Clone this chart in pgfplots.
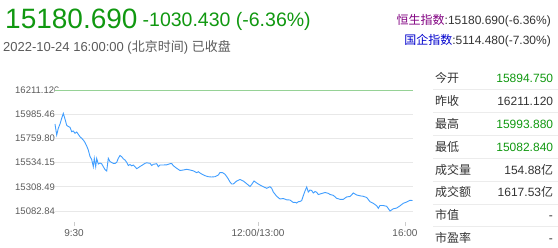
\documentclass[border=0pt]{standalone}
\usepackage{fontspec}
\setmainfont{Liberation Sans}
\newfontfamily\cjk{Noto Sans CJK SC}
\usepackage{pgfplots}
\pgfplotsset{compat=1.18}
\usepackage{pgfplotstable}

\definecolor{upgreen}{RGB}{16,152,16}
\definecolor{lineblue}{RGB}{64,158,255}
\definecolor{refgreen}{RGB}{150,210,150}
\definecolor{gridgray}{RGB}{232,232,232}
\definecolor{txtgray}{RGB}{90,90,90}
\definecolor{darktxt}{RGB}{51,51,51}
\definecolor{hsipurple}{RGB}{128,0,128}
\definecolor{hsceblue}{RGB}{0,0,204}
\definecolor{sepgray}{RGB}{236,236,236}

\pgfplotstableread{
t v
55 15894.75
56.7 15792.2
58.3 15854.7
60 15894.9
61.7 15948.1
63.3 15993.88
65 15941.6
66.7 15882.7
68.3 15871.5
70 15864.1
71.7 15823.0
73.3 15829.6
75 15808.1
76.7 15820.2
78.3 15798.7
80 15776.3
81.7 15761.4
83.3 15745.5
85 15722.2
86.7 15689.5
88.3 15652.2
90 15591.5
91.7 15563.5
93.3 15496.3
94.3 15574.7
95.7 15496.3
96.7 15572.8
98.3 15521.5
100 15530.8
101.7 15523.4
103.3 15496.3
105 15470.2
106.7 15456.2
108.3 15574.7
110 15544.8
111.7 15535.5
113.3 15528.0
115 15526.2
116.7 15537.4
118.3 15574.7
120 15600.8
121.7 15589.6
123.3 15570.0
125 15558.8
126.7 15537.4
128.3 15507.5
130 15516.8
131.7 15504.7
133.3 15512.2
135 15496.3
136.7 15477.6
138.3 15487.0
140 15498.2
141.7 15507.5
143.3 15516.8
145 15528.0
146.7 15532.7
150 15528.0
151.7 15507.5
153.3 15518.7
156.7 15524.3
158.3 15496.3
160 15512.2
163.3 15512.2
166.7 15514.0
170 15524.3
171.7 15526.2
173.3 15505.6
176.7 15481.4
180 15460.8
183.3 15465.5
186.7 15472.0
190 15465.5
193.3 15458.0
196.7 15440.3
198.3 15449.6
200 15437.5
201.7 15428.2
205 15412.3
208.3 15403.0
211.7 15400.2
215 15403.0
218.3 15418.8
220 15442.2
222.7 15440.3
225 15425.4
226.7 15404.8
228.3 15381.5
230 15353.5
231.7 15334.8
233.3 15334.8
235 15348.8
236.7 15362.8
240 15376.8
243.3 15362.8
246.7 15337.6
250 15311.5
251.7 15330.2
254 15362.8
256.7 15344.2
260 15325.5
263.3 15309.6
266.7 15294.7
270 15309.6
271.7 15294.7
273.3 15260.1
276.7 15220.0
280 15194.8
283.3 15199.5
286.7 15187.3
290 15185.5
293.3 15162.1
295 15164.0
296.7 15157.5
298.3 15169.6
300 15171.5
301.7 15180.8
303.3 15225.6
305 15269.5
306.7 15306.8
308.3 15260.1
310 15278.8
311.7 15274.1
313.3 15250.8
315 15264.8
316.7 15257.3
318.3 15236.8
321.7 15246.1
325 15255.5
328.3 15248.0
330 15236.8
333.3 15229.3
336.7 15201.3
340 15192.0
343.3 15192.0
346.7 15214.4
350 15218.1
353.3 15250.8
356.7 15232.1
360 15224.7
363.3 15220.0
366.7 15208.8
370 15169.6
373.3 15154.7
376.7 15131.3
378.3 15108.0
380 15134.1
383.3 15134.1
386.7 15126.7
390 15082.84
393.3 15103.3
396.7 15110.8
400 15131.3
403.3 15154.7
406.7 15166.8
410 15182.7
412.5 15180.69
}\hsidata

\pgfplotsset{
  myaxis/.style={
    at={(55bp,26bp)}, anchor=south west,
    width=357.5bp, height=134bp, scale only axis,
    xmin=55, xmax=412.5, ymin=14980.2, ymax=16230.9,
    scaled y ticks=false, scaled x ticks=false,
  }
}

\begin{document}
\begin{tikzpicture}
\useasboundingbox (0,0) rectangle (558bp,248bp);

% axis A: y tick labels only (partly hidden behind the plot area)
\begin{axis}[myaxis,
  hide x axis,
  axis y line*=left,
  y axis line style={draw=none},
  ytick={15082.84,15308.496,15534.152,15759.808,15985.464,16211.12},
  yticklabels={15082.840,15308.496,15534.152,15759.808,15985.464,16211.120},
  ytick style={draw=none},
  yticklabel style={anchor=west, inner sep=0pt, xshift=-40bp,
    font=\fontsize{9.5bp}{10bp}\selectfont, text=txtgray},
]
\end{axis}

% axis B: plot area
\begin{axis}[myaxis,
  axis background/.style={fill=white},
  axis x line*=bottom, axis y line*=left,
  axis line style={draw=none},
  ytick={15082.84,15308.496,15534.152,15759.808,15985.464},
  yticklabels={},
  ytick style={draw=none},
  ymajorgrids,
  grid style={gridgray, line width=0.9bp},
  xtick={74,258,405},
  xticklabels={9:30,12:00/13:00,16:00},
  tick align=outside,
  major tick length=4bp,
  xtick style={draw=black!20, line width=0.6bp},
  xticklabel style={font=\fontsize{10bp}{11bp}\selectfont, text=txtgray},
  clip=false,
]
\addplot[refgreen, line width=1bp] coordinates {(55,16211.12) (412.5,16211.12)};
\addplot[lineblue, line width=0.9bp] table[x=t,y=v]{\hsidata};
\end{axis}

% header
\node[anchor=base west, inner sep=0pt, text=upgreen] at (5bp,219.7bp)
  {\fontsize{28bp}{30bp}\selectfont 15180.690};
\node[anchor=base west, inner sep=0pt, text=upgreen] at (142.5bp,221.3bp)
  {\fontsize{19.5bp}{21bp}\selectfont -1030.430 (-6.36\%)};
\node[anchor=base west, inner sep=0pt, text=txtgray] at (3bp,196.3bp)
  {\fontsize{13bp}{15bp}\selectfont 2022-10-24 16:00:00 ({\cjk 北京时间}) {\cjk 已收盘}};

\node[anchor=base east, inner sep=0pt, text=darktxt] at (551bp,223bp)
  {\fontsize{12bp}{14bp}\selectfont{\color{hsipurple}\cjk 恒生指数}:15180.690(-6.36\%)};
\node[anchor=base east, inner sep=0pt, text=darktxt] at (551bp,203bp)
  {\fontsize{12bp}{14bp}\selectfont{\color{hsceblue}\cjk 国企指数}:5114.480(-7.30\%)};

% right panel
\foreach \yy in {158.3,135.4,112.6,89.7,66.9,44,21.2}{
  \draw[sepgray, line width=0.8bp] (433bp,\yy bp) -- (558bp,\yy bp);
}
\begin{scope}[every node/.style={inner sep=0pt}]
\foreach \lab/\yy in {今开/165.3, 昨收/142.45, 最高/119.6, 最低/96.75, 成交量/73.9, 成交额/51.05, 市值/28.2, 市盈率/5.35}{
  \node[anchor=base west, text=darktxt] at (435bp,\yy bp) {\fontsize{12bp}{14bp}\selectfont\cjk \lab};
}
\node[anchor=base east, text=upgreen] at (553.3bp,165.3bp) {\fontsize{12bp}{14bp}\selectfont 15894.750};
\node[anchor=base east, text=darktxt] at (553.3bp,142.45bp) {\fontsize{12bp}{14bp}\selectfont 16211.120};
\node[anchor=base east, text=upgreen] at (553.3bp,119.6bp) {\fontsize{12bp}{14bp}\selectfont 15993.880};
\node[anchor=base east, text=upgreen] at (553.3bp,96.75bp) {\fontsize{12bp}{14bp}\selectfont 15082.840};
\node[anchor=base east, text=darktxt] at (553.3bp,73.9bp) {\fontsize{12bp}{14bp}\selectfont 154.88{\cjk 亿}};
\node[anchor=base east, text=darktxt] at (553.3bp,51.05bp) {\fontsize{12bp}{14bp}\selectfont 1617.53{\cjk 亿}};
\node[anchor=base east, text=darktxt] at (553bp,28.2bp) {\fontsize{12bp}{14bp}\selectfont -};
\node[anchor=base east, text=darktxt] at (553bp,5.35bp) {\fontsize{12bp}{14bp}\selectfont -};
\end{scope}
\end{tikzpicture}
\end{document}
